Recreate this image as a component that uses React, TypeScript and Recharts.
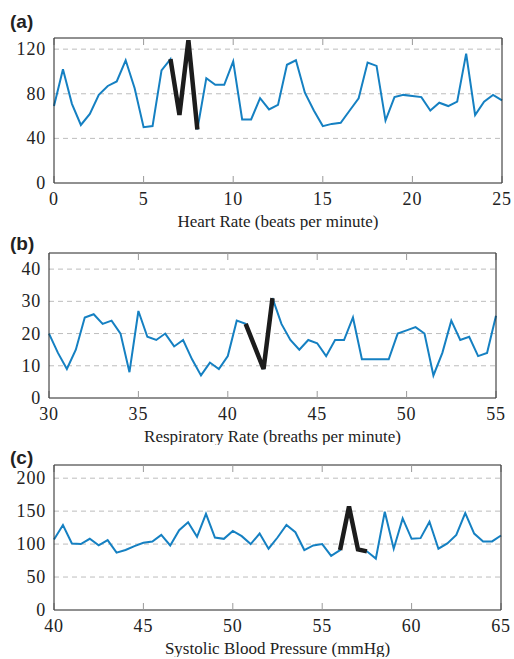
import { LineChart, Line, XAxis, YAxis, CartesianGrid } from 'recharts';

const BLUE = '#1580c2';
const DARK = '#1c1c1c';
const SERIF = 'Liberation Serif, Times New Roman, serif';

// (a) heart rate
const hrX = [
  0, 0.5, 1, 1.5, 2, 2.5, 3, 3.5, 4, 4.5, 5, 5.5, 6, 6.5, 7, 7.5, 8, 8.5, 9, 9.5,
  10, 10.5, 11, 11.5, 12, 12.5, 13, 13.5, 14, 14.5, 15, 15.5, 16, 16.5, 17, 17.5,
  18, 18.5, 19, 19.5, 20, 20.5, 21, 21.5, 22, 22.5, 23, 23.5, 24, 24.5, 25,
];
const hrY = [
  69, 102, 71, 52, 62, 79, 87, 91, 110, 85, 50, 51, 101, 111, 61, 128, 48, 94, 88, 88,
  109, 57, 57, 76, 66, 70, 106, 110, 81, 65, 51, 53, 54, 65, 76, 108, 105, 56, 77, 79,
  78, 77, 65, 72, 69, 73, 116, 61, 73, 79, 74,
];
const hrAlarm = [6.5, 8];
const hrTicksX = [0, 5, 10, 15, 20, 25];
const hrTicksY = [0, 40, 80, 120];

// (b) respiratory rate
const rrX = [
  30, 30.5, 31, 31.5, 32, 32.5, 33, 33.5, 34, 34.5, 35, 35.5, 36, 36.5, 37, 37.5,
  38, 38.5, 39, 39.5, 40, 40.5, 41, 41.5, 42, 42.5, 43, 43.5, 44, 44.5, 45, 45.5,
  46, 46.5, 47, 47.5, 48, 48.5, 49, 49.5, 50, 50.5, 51, 51.5, 52, 52.5, 53, 53.5,
  54, 54.5, 55,
];
const rrY = [
  20, 14, 9, 15, 25, 26, 23, 24, 20, 8, 27, 19, 18, 20, 16, 18,
  12, 7, 11, 9, 13, 24, 23, 16, 9, 31, 23, 18, 15, 18, 17, 13,
  18, 18, 25, 12, 12, 12, 12, 20, 21, 22, 20, 7, 14, 24, 18, 19,
  13, 14, 25.5,
];
const rrAlarm = [41, 42.5];
const rrTicksX = [30, 35, 40, 45, 50, 55];
const rrTicksY = [0, 10, 20, 30, 40];

// (c) systolic blood pressure
const bpX = [
  40, 40.5, 41, 41.5, 42, 42.5, 43, 43.5, 44, 44.5, 45, 45.5, 46, 46.5, 47, 47.5,
  48, 48.5, 49, 49.5, 50, 50.5, 51, 51.5, 52, 52.5, 53, 53.5, 54, 54.5, 55, 55.5,
  56, 56.5, 57, 57.5, 58, 58.5, 59, 59.5, 60, 60.5, 61, 61.5, 62, 62.5, 63, 63.5,
  64, 64.5, 65,
];
const bpY = [
  107, 129, 101, 100, 108, 98, 106, 87, 91, 97, 102, 104, 114, 98, 121, 133,
  111, 146, 110, 108, 120, 112, 100, 116, 93, 110, 129, 118, 91, 98, 100, 82,
  91, 157, 92, 89, 78, 149, 93, 139, 108, 109, 134, 93, 101, 114, 147, 116,
  104, 104, 113,
];
const bpAlarm = [56, 57.5];
const bpTicksX = [40, 45, 50, 55, 60, 65];
const bpTicksY = [0, 50, 100, 150, 200];

function buildRows(xs: number[], ys: number[], alarm: number[]) {
  return xs.map((x, i) => ({
    x,
    v: ys[i],
    hi: x >= alarm[0] && x <= alarm[1] ? ys[i] : null,
  }));
}

interface PanelProps {
  tag: string;
  tagTop: number;
  top: number;
  xs: number[];
  ys: number[];
  alarm: number[];
  xTicks: number[];
  yTicks: number[];
  yMax: number;
  left: number;
  right: number;
  title: string;
}

const labelStyle = { fontFamily: SERIF, fontSize: 18, letterSpacing: 0.8 };

function XTick(props: any) {
  const { x, y, payload } = props;
  return (
    <text x={x} y={y + 22} textAnchor="middle" fill="#222" style={labelStyle}>
      {payload.value}
    </text>
  );
}
function YTick(props: any) {
  const { x, y, payload } = props;
  return (
    <text x={x} y={y + 6} textAnchor="end" fill="#222" style={labelStyle}>
      {payload.value}
    </text>
  );
}
const noLabel = () => <g />;
const TICK = { stroke: '#9a9a9a' };
const FRAME = { stroke: '#222' };

function Panel({ tag, tagTop, top, xs, ys, alarm, xTicks, yTicks, yMax, left, right, title }: PanelProps) {
  const rows = buildRows(xs, ys, alarm);
  const xDomain = [xTicks[0], xTicks[xTicks.length - 1]];
  return (
    <div style={{ position: 'absolute', left: 0, top, width: 514, height: 230 }}>
      <LineChart
        width={514}
        height={230}
        data={rows}
        margin={{ top: 38, right, left: 0, bottom: 0 }}
      >
        <CartesianGrid
          horizontal
          vertical={false}
          stroke="#bdbdbd"
          strokeDasharray="5 4"
          yAxisId="l"
          xAxisId="b"
          horizontalValues={yTicks.slice(1)}
        />
        <XAxis
          xAxisId="b"
          dataKey="x"
          type="number"
          domain={xDomain}
          ticks={xTicks}
          interval={0}
          height={47}
          axisLine={FRAME}
          tickLine={false}
          tickSize={0}
          tickMargin={0}
          tick={XTick}
          label={{ value: title, position: 'insideBottom', offset: 3, style: { fontFamily: SERIF, fontSize: 17, fill: '#222' } }}
        />
        <XAxis
          xAxisId="bt"
          mirror
          dataKey="x"
          type="number"
          domain={xDomain}
          ticks={xTicks}
          interval={0}
          axisLine={false}
          tickLine={TICK}
          tickSize={7}
          tick={noLabel}
        />
        <XAxis
          xAxisId="t"
          orientation="top"
          mirror
          dataKey="x"
          type="number"
          domain={xDomain}
          ticks={xTicks}
          interval={0}
          axisLine={FRAME}
          tickLine={TICK}
          tickSize={7}
          tick={noLabel}
        />
        <YAxis
          yAxisId="l"
          type="number"
          domain={[0, yMax]}
          ticks={yTicks}
          interval={0}
          width={left}
          axisLine={FRAME}
          tickLine={false}
          tickSize={0}
          tickMargin={8}
          tick={YTick}
        />
        <YAxis
          yAxisId="r"
          orientation="right"
          mirror
          type="number"
          domain={[0, yMax]}
          ticks={yTicks}
          interval={0}
          axisLine={FRAME}
          tickLine={TICK}
          tickSize={7}
          tick={noLabel}
        />
        <Line
          xAxisId="b"
          yAxisId="l"
          dataKey="v"
          stroke={BLUE}
          strokeWidth={2}
          dot={false}
          isAnimationActive={false}
        />
        <Line
          xAxisId="b"
          yAxisId="l"
          dataKey="hi"
          stroke={DARK}
          strokeWidth={4.5}
          strokeLinejoin="miter"
          dot={false}
          connectNulls={false}
          isAnimationActive={false}
        />
      </LineChart>
      <div
        style={{
          position: 'absolute',
          left: 10,
          top: tagTop,
          fontFamily: 'Liberation Sans, Arial, sans-serif',
          fontWeight: 'bold',
          fontSize: 19,
          color: '#222',
          lineHeight: '22px',
        }}
      >
        {tag}
      </div>
    </div>
  );
}

export default function App() {
  return (
    <div style={{ position: 'absolute', left: 0, top: 0, width: 514, height: 659, background: '#fff' }}>
      <Panel
        tag="(a)"
        tagTop={11}
        top={0}
        xs={hrX}
        ys={hrY}
        alarm={hrAlarm}
        xTicks={hrTicksX}
        yTicks={hrTicksY}
        yMax={130}
        left={54}
        right={12}
        title="Heart Rate (beats per minute)"
      />
      <Panel
        tag="(b)"
        tagTop={18}
        top={215}
        xs={rrX}
        ys={rrY}
        alarm={rrAlarm}
        xTicks={rrTicksX}
        yTicks={rrTicksY}
        yMax={45}
        left={49}
        right={18}
        title="Respiratory Rate (breaths per minute)"
      />
      <Panel
        tag="(c)"
        tagTop={20}
        top={427}
        xs={bpX}
        ys={bpY}
        alarm={bpAlarm}
        xTicks={bpTicksX}
        yTicks={bpTicksY}
        yMax={220}
        left={54}
        right={13}
        title="Systolic Blood Pressure (mmHg)"
      />
    </div>
  );
}
